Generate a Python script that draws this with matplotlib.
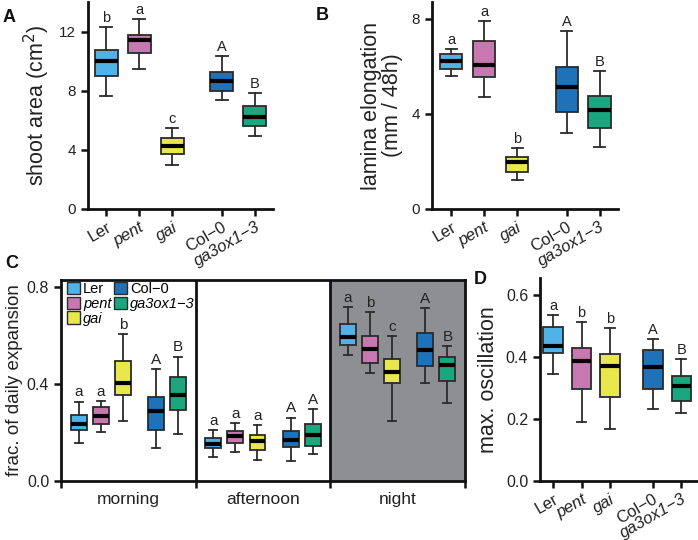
import matplotlib
matplotlib.use("Agg")
import matplotlib.pyplot as plt
from matplotlib.patches import Patch

plt.rcParams['font.family'] = ['Liberation Sans', 'DejaVu Sans']

genotypes = ["Ler", "pent", "gai", "Col\u22120", "ga3ox1\u22123"]
italic = [False, True, True, False, True]
colors = ["#4fb3e8", "#c878b0", "#e8e84c", "#1f72b8", "#1aa67e"]
positions = [1, 2, 3, 4.5, 5.5]

# Panel A: shoot area (cm2) -- whislo, q1, med, q3, whishi
A_lo = [7.67, 9.5, 2.99, 7.35, 4.92]
A_q1 = [9.0, 10.54, 3.71, 7.96, 5.6]
A_med = [10.0, 11.44, 4.25, 8.63, 6.22]
A_q3 = [10.77, 11.75, 4.83, 9.28, 6.99]
A_hi = [12.3, 12.83, 5.46, 10.32, 7.87]
A_letters = ["b", "a", "c", "A", "B"]

# Panel B: lamina elongation (mm / 48h)
B_lo = [5.57, 4.7, 1.21, 3.19, 2.61]
B_q1 = [5.89, 5.53, 1.55, 4.08, 3.41]
B_med = [6.24, 6.06, 1.97, 5.13, 4.15]
B_q3 = [6.52, 7.06, 2.2, 5.98, 4.77]
B_hi = [6.71, 7.9, 2.55, 7.47, 5.8]
B_letters = ["a", "a", "b", "A", "B"]

# Panel C: fraction of daily expansion, per period
periods = ["morning", "afternoon", "night"]
C_lo = [[0.155, 0.2, 0.247, 0.137, 0.192],
        [0.1, 0.119, 0.088, 0.084, 0.11],
        [0.519, 0.445, 0.247, 0.405, 0.32]]
C_q1 = [[0.21, 0.236, 0.353, 0.211, 0.291],
        [0.134, 0.156, 0.128, 0.139, 0.145],
        [0.56, 0.487, 0.405, 0.473, 0.41]]
C_med = [[0.235, 0.269, 0.402, 0.288, 0.353],
         [0.152, 0.187, 0.166, 0.167, 0.191],
         [0.594, 0.542, 0.447, 0.538, 0.476]]
C_q3 = [[0.272, 0.303, 0.494, 0.346, 0.428],
        [0.178, 0.206, 0.189, 0.207, 0.233],
        [0.645, 0.598, 0.501, 0.608, 0.512]]
C_hi = [[0.327, 0.329, 0.604, 0.462, 0.512],
        [0.21, 0.24, 0.229, 0.261, 0.296],
        [0.715, 0.696, 0.598, 0.711, 0.556]]
C_letters = [["a", "a", "b", "A", "B"],
             ["a", "a", "a", "A", "A"],
             ["a", "b", "c", "A", "B"]]

# Panel D: max. oscillation
D_lo = [0.346, 0.19, 0.167, 0.232, 0.22]
D_q1 = [0.412, 0.298, 0.27, 0.298, 0.259]
D_med = [0.435, 0.387, 0.371, 0.367, 0.305]
D_q3 = [0.496, 0.428, 0.408, 0.423, 0.337]
D_hi = [0.535, 0.512, 0.492, 0.458, 0.392]
D_letters = ["a", "b", "b", "A", "B"]

W, H = 698, 540
fig = plt.figure(figsize=(W / 100, H / 100), dpi=100)

def ax_px(l, t, r, b):
    return fig.add_axes([l / W, 1 - b / H, (r - l) / W, (b - t) / H])

EDGE = "#2b2b2b"
TXT = "#222222"


def draw_boxes(ax, pos, lo, q1, med, q3, hi, letters, width, fs=10.5):
    stats = []
    for i in range(len(pos)):
        stats.append(dict(whislo=lo[i], q1=q1[i], med=med[i], q3=q3[i],
                          whishi=hi[i], fliers=[]))
    bp = ax.bxp(stats, positions=pos, widths=width, patch_artist=True,
                showfliers=False, manage_ticks=False,
                boxprops=dict(edgecolor=EDGE, linewidth=1.3),
                whiskerprops=dict(color=EDGE, linewidth=1.3),
                capprops=dict(color=EDGE, linewidth=1.3),
                capwidths=width * 0.5,
                medianprops=dict(color="black", linewidth=3.0,
                                 solid_capstyle="butt"))
    for patch, c in zip(bp["boxes"], colors):
        patch.set_facecolor(c)
    for x, y, t in zip(pos, hi, letters):
        ax.annotate(t, (x, y), xytext=(0, 1.5), textcoords="offset points",
                    ha="center", va="bottom", fontsize=fs, color=TXT)


def style_open(ax):
    for s in ["top", "right"]:
        ax.spines[s].set_visible(False)
    for s in ["left", "bottom"]:
        ax.spines[s].set_linewidth(2.0)
        ax.spines[s].set_color("#111111")
    ax.tick_params(axis="both", direction="out", length=5, width=1.8,
                   color="#111111", labelsize=11, labelcolor=TXT)
    ax.tick_params(axis="x", pad=2.5)
    ax.set_xticks(positions)
    labels = ax.set_xticklabels(genotypes, rotation=30, ha="right",
                                rotation_mode="anchor", fontsize=12)
    for lab, it in zip(labels, italic):
        if it:
            lab.set_style("italic")


# ---------- Panel A ----------
axA = ax_px(88, 2, 273, 209)
draw_boxes(axA, positions, A_lo, A_q1, A_med, A_q3, A_hi, A_letters, 0.7)
axA.set_xlim(0.45, 6.05)
axA.set_ylim(0, 14)
axA.set_yticks([0, 4, 8, 12])
style_open(axA)
axA.set_ylabel("shoot area (cm$^2$)", fontsize=15.5, color=TXT,
               labelpad=5)

# ---------- Panel B ----------
axB = ax_px(432, 2, 618, 209)
draw_boxes(axB, positions, B_lo, B_q1, B_med, B_q3, B_hi, B_letters, 0.67)
axB.set_xlim(0.42, 6.06)
axB.set_ylim(0, 8.7)
axB.set_yticks([0, 4, 8])
style_open(axB)
axB.set_ylabel("lamina elongation\n(mm / 48h)", fontsize=15.5,
               color=TXT, labelpad=6, linespacing=1.05)

# ---------- Panel C ----------
axC = ax_px(61, 280, 465, 481)
SEC = 6.1
x0 = 0.2
axC.axvspan(x0 + 2 * SEC, x0 + 3 * SEC, color="#8e8f92", zorder=0)
for k in range(3):
    pos = [p + k * SEC for p in positions]
    draw_boxes(axC, pos, C_lo[k], C_q1[k], C_med[k], C_q3[k], C_hi[k],
               C_letters[k], 0.72, fs=11)
for k in (1, 2):
    axC.axvline(x0 + k * SEC, color="#111111", linewidth=2.0, zorder=5)
axC.set_xlim(x0, x0 + 3 * SEC)
axC.set_ylim(0, 0.827)
axC.set_yticks([0.0, 0.4, 0.8])
axC.set_yticklabels(["0.0", "0.4", "0.8"])
for s in axC.spines.values():
    s.set_linewidth(2.0)
    s.set_color("#111111")
axC.set_xticks([x0 + SEC * (k + 0.5) for k in range(3)])
axC.set_xticklabels(periods)
axC.set_xticks([x0 + SEC * k for k in range(4)], minor=True)
axC.tick_params(axis="x", which="major", length=0, pad=8, labelsize=12.5,
                labelcolor=TXT)
axC.tick_params(axis="x", which="minor", direction="out", length=5,
                width=1.8, color="#111111")
axC.tick_params(axis="y", direction="out", length=5, width=1.8,
                color="#111111", labelsize=11.5, labelcolor=TXT)
axC.set_ylabel("frac. of daily expansion", fontsize=13.5, color=TXT,
               labelpad=3)
handles = [Patch(facecolor=c, edgecolor=EDGE, linewidth=1.0) for c in colors]
leg = axC.legend(handles, genotypes, ncol=2, loc="upper left",
                 bbox_to_anchor=(0.0, 1.02), frameon=False, fontsize=10.5,
                 handlelength=0.9, handleheight=0.9, handletextpad=0.2,
                 columnspacing=0.2, labelspacing=0.05, borderaxespad=0.2,
                 borderpad=0.2)
for txt, it in zip(leg.get_texts(), italic):
    if it:
        txt.set_style("italic")

# ---------- Panel D ----------
axD = ax_px(540, 278, 697, 481)
draw_boxes(axD, positions, D_lo, D_q1, D_med, D_q3, D_hi, D_letters, 0.68)
axD.set_xlim(0.54, 6.05)
axD.set_ylim(0, 0.654)
axD.set_yticks([0.0, 0.2, 0.4, 0.6])
axD.set_yticklabels(["0.0", "0.2", "0.4", "0.6"])
style_open(axD)
axD.tick_params(axis="y", labelsize=11.5)
axD.set_ylabel("max. oscillation", fontsize=15.5, color=TXT,
               labelpad=5)

# Panel letters
for t, (x, y) in zip("ABCD", [(9, 17), (322, 15), (12, 264), (480, 279)]):
    fig.text(x / W, 1 - y / H, t, fontsize=13, fontweight="bold",
             ha="center", va="center", color="#111111")

fig.savefig("out.png", dpi=100)
